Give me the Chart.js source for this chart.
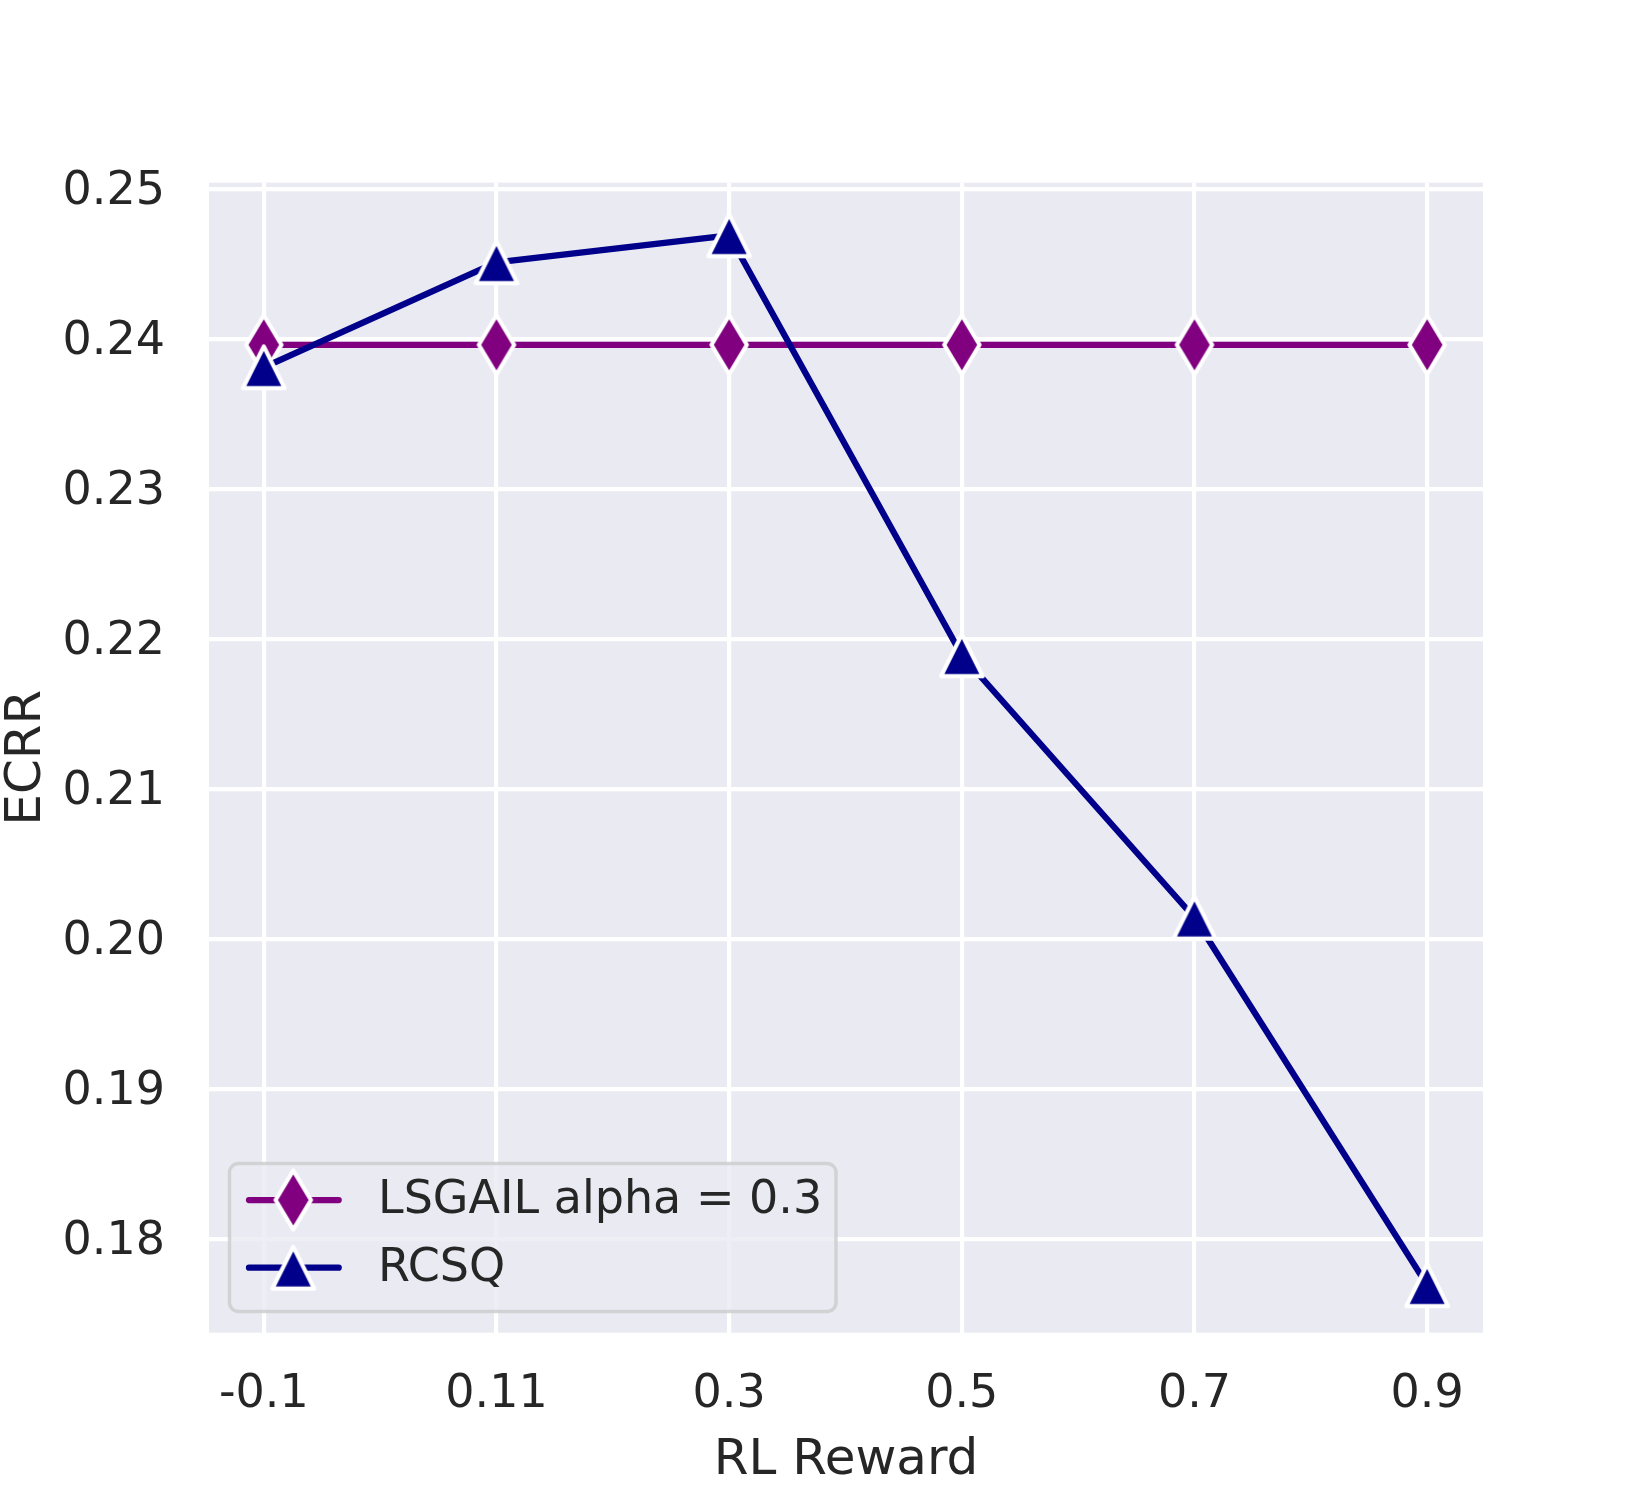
<!DOCTYPE html>
<html><head><meta charset="utf-8">
<script src="https://cdn.jsdelivr.net/npm/chart.js@4.4.1/dist/chart.umd.min.js"></script>
<style>html,body{margin:0;padding:0;background:#fff}canvas{display:block}</style>
</head><body>
<canvas id="c" width="1650" height="1500"></canvas>
<script>
// ---- data ----
const categories = ['-0.1', '0.11', '0.3', '0.5', '0.7', '0.9'];
const lsgailValues = [0.2396, 0.2396, 0.2396, 0.2396, 0.2396, 0.2396];
const rcsqValues = [0.2381, 0.2451, 0.2469, 0.2189, 0.2014, 0.1769];
const yTicks = [0.18, 0.19, 0.20, 0.21, 0.22, 0.23, 0.24, 0.25];
const seriesLabels = ['LSGAIL alpha = 0.3', 'RCSQ'];
const xTitle = 'RL Reward';
const yTitle = 'ECRR';

// ---- styles ----
const FONT = '"DejaVu Sans", "Liberation Sans", sans-serif';
const TEXT = '#262626';
const BG = '#EAEAF2';
const PURPLE = '#800080';
const NAVY = '#00008B';
const EDGE = 4.17;

function thinDiamond(color) {
  const hw = 17.7, hh = 29.5;
  const c = document.createElement('canvas');
  c.width = 44; c.height = 66;
  const g = c.getContext('2d');
  g.translate(22, 33);
  g.beginPath();
  g.moveTo(0, -hh); g.lineTo(hw, 0); g.lineTo(0, hh); g.lineTo(-hw, 0); g.closePath();
  g.fillStyle = color; g.fill();
  g.lineJoin = 'round'; g.lineWidth = EDGE; g.strokeStyle = '#fff'; g.stroke();
  return c;
}
function triangleUp(color) {
  const h = 20.85;
  const c = document.createElement('canvas');
  c.width = 50; c.height = 50;
  const g = c.getContext('2d');
  g.translate(25, 25);
  g.beginPath();
  g.moveTo(0, -h); g.lineTo(h, h); g.lineTo(-h, h); g.closePath();
  g.fillStyle = color; g.fill();
  g.lineJoin = 'round'; g.lineWidth = EDGE; g.strokeStyle = '#fff'; g.stroke();
  return c;
}
const diamondImg = thinDiamond(PURPLE);
const triImg = triangleUp(NAVY);

const bgPlugin = {
  id: 'bg',
  beforeDraw(chart) {
    const {ctx, chartArea: a} = chart;
    ctx.save();
    ctx.fillStyle = '#fff';
    ctx.fillRect(0, 0, chart.width, chart.height);
    ctx.fillStyle = BG;
    ctx.fillRect(a.left, a.top, a.right - a.left, a.bottom - a.top);
    ctx.restore();
  }
};

function roundRect(ctx, x, y, w, h, r) {
  ctx.beginPath();
  ctx.moveTo(x + r, y);
  ctx.lineTo(x + w - r, y); ctx.arcTo(x + w, y, x + w, y + r, r);
  ctx.lineTo(x + w, y + h - r); ctx.arcTo(x + w, y + h, x + w - r, y + h, r);
  ctx.lineTo(x + r, y + h); ctx.arcTo(x, y + h, x, y + h - r, r);
  ctx.lineTo(x, y + r); ctx.arcTo(x, y, x + r, y, r);
  ctx.closePath();
}

const legendPlugin = {
  id: 'innerLegend',
  afterDraw(chart) {
    const ctx = chart.ctx;
    ctx.save();
    roundRect(ctx, 229.5, 1163.5, 606.5, 148, 9);
    ctx.fillStyle = 'rgba(234,234,242,0.8)';
    ctx.fill();
    ctx.lineWidth = 3.5;
    ctx.strokeStyle = 'rgba(204,204,204,0.8)';
    ctx.stroke();
    const rows = [1200, 1267.7];
    chart.data.datasets.forEach((ds, i) => {
      const y = rows[i];
      ctx.beginPath();
      ctx.moveTo(249, y); ctx.lineTo(338.7, y);
      ctx.lineWidth = ds.borderWidth; ctx.strokeStyle = ds.borderColor; ctx.lineCap = 'round';
      ctx.stroke();
      const img = ds.pointStyle;
      ctx.drawImage(img, 293.3 - img.width / 2, y - img.height / 2);
      ctx.fillStyle = TEXT;
      ctx.font = '46px ' + FONT;
      ctx.textBaseline = 'middle';
      ctx.textAlign = 'left';
      ctx.fillText(ds.label, 378, y + 1.5);
    });
    ctx.restore();
  }
};

const toPoints = vals => vals.map((v, i) => ({x: i, y: v}));

new Chart(document.getElementById('c'), {
  type: 'line',
  data: {
    datasets: [
      {
        label: seriesLabels[0], data: toPoints(lsgailValues),
        borderColor: PURPLE, backgroundColor: PURPLE, borderWidth: 6.25,
        borderJoinStyle: 'round', tension: 0, fill: false,
        pointStyle: diamondImg, pointRadius: 20, order: 1, clip: false
      },
      {
        label: seriesLabels[1], data: toPoints(rcsqValues),
        borderColor: NAVY, backgroundColor: NAVY, borderWidth: 6.25,
        borderJoinStyle: 'round', tension: 0, fill: false,
        pointStyle: triImg, pointRadius: 20, order: 0, clip: false
      }
    ]
  },
  options: {
    responsive: false,
    animation: false,
    devicePixelRatio: 1,
    layout: {padding: {top: 182.7, right: 167, left: 0, bottom: 0}},
    plugins: {legend: {display: false}, tooltip: {enabled: false}},
    scales: {
      x: {
        type: 'linear', min: -0.2355, max: 5.24,
        afterBuildTicks: s => { s.ticks = categories.map((_, i) => ({value: i})); },
        afterFit: s => { s.height = 1500 - 1332.7; },
        grid: {color: '#fff', lineWidth: 4.17, drawTicks: false, tickLength: 0},
        border: {display: false},
        ticks: {
          callback: v => categories[v], autoSkip: false, maxRotation: 0,
          padding: 34.8, color: TEXT, font: {family: FONT, size: 46}
        },
        title: {display: true, text: xTitle, color: TEXT,
          font: {family: FONT, size: 50, lineHeight: 1}, padding: {top: 0, bottom: 14.2}}
      },
      y: {
        type: 'linear', min: 0.173733, max: 0.250407,
        afterBuildTicks: s => { s.ticks = yTicks.map(v => ({value: v})); },
        afterFit: s => { s.width = 209; },
        grid: {color: '#fff', lineWidth: 4.17, drawTicks: false, tickLength: 0},
        border: {display: false},
        ticks: {
          callback: v => Number(v).toFixed(2), autoSkip: false,
          padding: 44, labelOffset: 3, color: TEXT, font: {family: FONT, size: 46}
        },
        title: {display: true, text: yTitle, color: TEXT,
          font: {family: FONT, size: 50, lineHeight: 1}, padding: {top: 1.6, bottom: 0}}
      }
    }
  },
  plugins: [bgPlugin, legendPlugin]
});
</script>
</body></html>
